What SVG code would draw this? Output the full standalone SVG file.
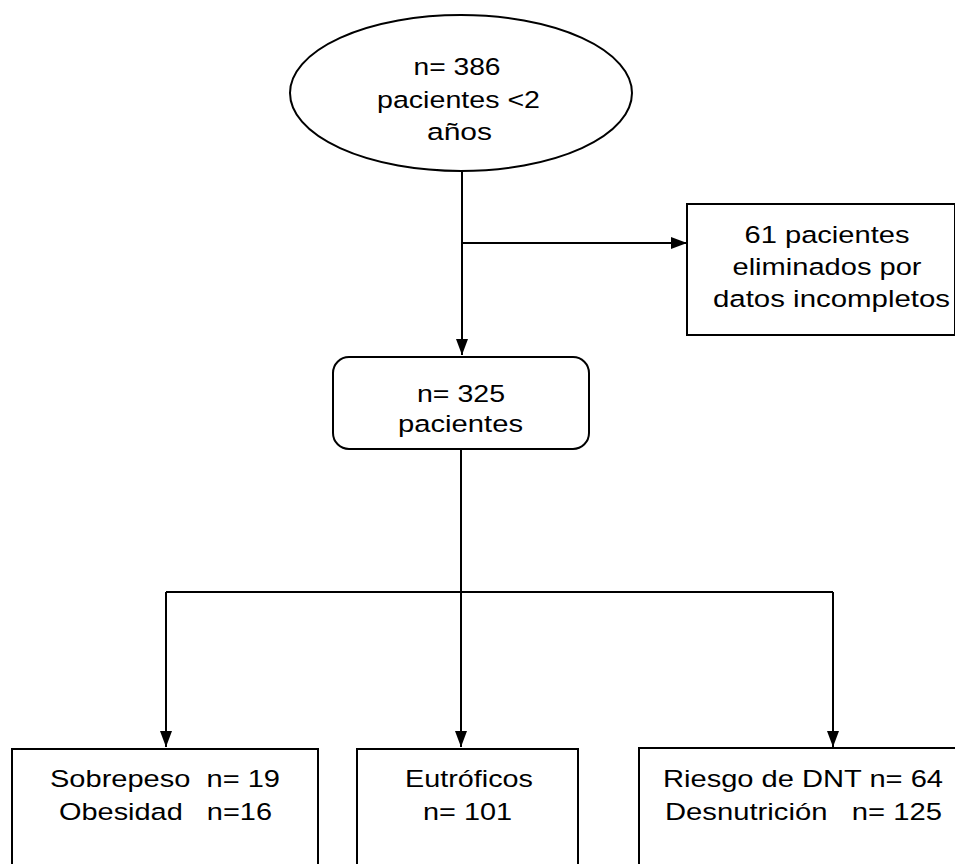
<svg xmlns="http://www.w3.org/2000/svg" width="955" height="864" viewBox="0 0 955 864">
<style>
.s{fill:#fff;stroke:#000;stroke-width:2}
.t{font-family:"Liberation Sans",Arial,sans-serif;font-size:24.5px;fill:#000;text-anchor:middle}
.c{fill:none;stroke:#000;stroke-width:2}
</style>
<defs>
<marker id="a" viewBox="0 0 16 12" refX="16" refY="6" markerWidth="16" markerHeight="12" markerUnits="userSpaceOnUse" orient="auto">
<path d="M0,0L16,6L0,12Z" fill="#000"/>
</marker>
</defs>
<rect width="955" height="864" fill="#fff"/>
<g id="connectors">
<path class="c" d="M462,172V355" marker-end="url(#a)"/>
<path class="c" d="M462,243H687" marker-end="url(#a)"/>
<path class="c" d="M461,449V592"/>
<path class="c" d="M166,592H833"/>
<path class="c" d="M166,592V747" marker-end="url(#a)"/>
<path class="c" d="M461,592V747" marker-end="url(#a)"/>
<path class="c" d="M833,592V747" marker-end="url(#a)"/>
</g>
<g id="n1">
<ellipse class="s" cx="461" cy="93" rx="171" ry="78"/>
<text class="t" x="457" y="75" textLength="87" lengthAdjust="spacingAndGlyphs">n= 386</text>
<text class="t" x="458.5" y="108" textLength="163" lengthAdjust="spacingAndGlyphs">pacientes &lt;2</text>
<text class="t" x="459.5" y="140" textLength="65" lengthAdjust="spacingAndGlyphs">años</text>
</g>
<g id="n2">
<rect class="s" x="687" y="204" width="268" height="131"/>
<text class="t" x="827" y="243" textLength="165" lengthAdjust="spacingAndGlyphs">61 pacientes</text>
<text class="t" x="827" y="275" textLength="189" lengthAdjust="spacingAndGlyphs">eliminados por</text>
<text class="t" x="831.5" y="307" textLength="237" lengthAdjust="spacingAndGlyphs">datos incompletos</text>
</g>
<g id="n3">
<rect class="s" x="333" y="357" width="256" height="92" rx="16"/>
<text class="t" x="461" y="402" textLength="88" lengthAdjust="spacingAndGlyphs">n= 325</text>
<text class="t" x="460.5" y="432" textLength="125" lengthAdjust="spacingAndGlyphs">pacientes</text>
</g>
<g id="n4">
<rect class="s" x="12" y="749" width="306" height="130"/>
<text class="t" x="165" y="787" xml:space="preserve" textLength="230" lengthAdjust="spacingAndGlyphs">Sobrepeso  n= 19</text>
<text class="t" x="165.5" y="820" xml:space="preserve" textLength="213" lengthAdjust="spacingAndGlyphs">Obesidad   n=16</text>
</g>
<g id="n5">
<rect class="s" x="357" y="749" width="221" height="130"/>
<text class="t" x="469" y="787" textLength="128" lengthAdjust="spacingAndGlyphs">Eutróficos</text>
<text class="t" x="467.5" y="820" textLength="89" lengthAdjust="spacingAndGlyphs">n= 101</text>
</g>
<g id="n6">
<rect class="s" x="639" y="748" width="330" height="130"/>
<text class="t" x="803" y="787" textLength="280" lengthAdjust="spacingAndGlyphs">Riesgo de DNT n= 64</text>
<text class="t" x="803.5" y="820" xml:space="preserve" textLength="277" lengthAdjust="spacingAndGlyphs">Desnutrición   n= 125</text>
</g>
</svg>
